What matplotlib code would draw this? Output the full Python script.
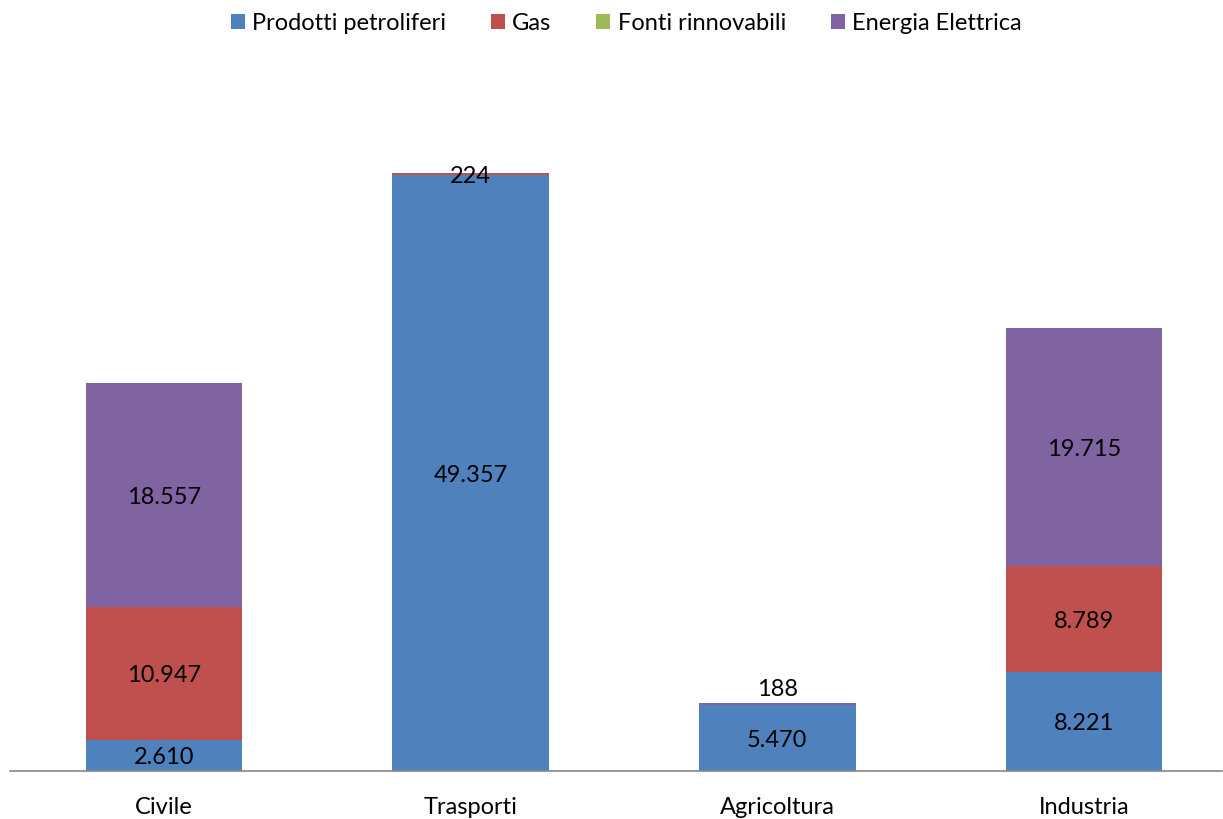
import matplotlib
matplotlib.use("Agg")
import matplotlib.pyplot as plt
import numpy as np

categories = ["Civile", "Trasporti", "Agricoltura", "Industria"]
series_names = ["Prodotti petroliferi", "Gas", "Fonti rinnovabili", "Energia Elettrica"]
prodotti_petroliferi = [2610, 49357, 5470, 8221]
gas = [10947, 224, 0, 8789]
fonti_rinnovabili = [0, 0, 0, 0]
energia_elettrica = [18557, 0, 188, 19715]

colors = ["#4F81BD", "#C0504D", "#9BBB59", "#8064A2"]
series = [prodotti_petroliferi, gas, fonti_rinnovabili, energia_elettrica]

plt.rcParams["font.family"] = ["Lato", "DejaVu Sans"]

fig = plt.figure(figsize=(12.23, 8.19), dpi=100)
ax = fig.add_axes([10 / 1223, 48 / 819, 1212 / 1223, 724 / 819])

x = np.arange(len(categories))
width = 0.51
bottom = np.zeros(len(categories))
handles = []
for name, vals, col in zip(series_names, series, colors):
    vals = np.array(vals, dtype=float)
    bars = ax.bar(x, vals, width, bottom=bottom, color=col, label=name, linewidth=0)
    handles.append(bars)
    for xi, v, b in zip(x, vals, bottom):
        if v <= 0:
            continue
        label = f"{int(v):,}".replace(",", ".")
        if v < 200 and name == "Energia Elettrica":
            ax.text(xi, b + v + 1100, label, ha="center", va="center", fontsize=17, color="black")
        else:
            ax.text(xi, b + v / 2 - 200, label, ha="center", va="center", fontsize=17, color="black")
    bottom += vals

ax.set_xlim(-0.502, 3.45)
ax.set_ylim(0, 60000)
ax.set_xticks(x)
ax.set_xticklabels(categories, fontsize=17)
ax.tick_params(axis="x", length=0, pad=19)
ax.set_yticks([])
for s in ["top", "right", "left"]:
    ax.spines[s].set_visible(False)
ax.spines["bottom"].set_color("#868686")
ax.spines["bottom"].set_linewidth(1.2)

fig.legend(handles=handles, labels=series_names, loc="upper center",
           bbox_to_anchor=(0.512, 1.01), ncol=4, frameon=False, fontsize=17,
           handlelength=0.6, handleheight=0.6, handletextpad=0.3, columnspacing=1.9)

fig.savefig("out.png", dpi=100, facecolor="white")
